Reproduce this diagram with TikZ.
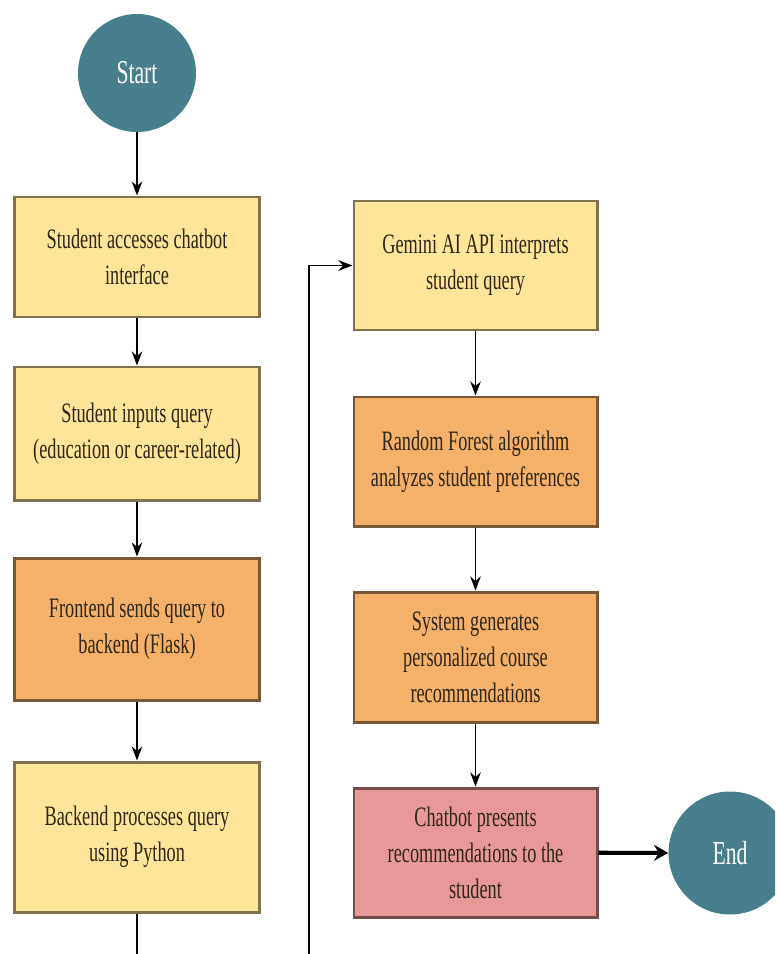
\documentclass[tikz,border=0pt]{standalone}
\usepackage{fontspec}
\setmainfont{Liberation Serif}[FakeStretch=0.65]
\usepackage{xcolor}
\usepackage{tikz}
\usetikzlibrary{shapes.geometric, arrows.meta, positioning}
\definecolor{stepyellow}{HTML}{FFE59A}
\definecolor{steporange}{HTML}{F5B06A}
\definecolor{steppink}{HTML}{E99898}
\definecolor{terminalteal}{HTML}{487F8C}
\definecolor{steptext}{HTML}{2E2618}

\begin{document}
\begin{tikzpicture}[
    box/.style={rectangle, draw=#1!50!black, fill=#1, line width=1.7pt, minimum width=4.9cm, align=center, text=steptext, font=\fontsize{16}{20.5}\selectfont},
    terminal/.style={circle, fill=terminalteal, text=white, font=\fontsize{19}{22}\selectfont},
    arrow/.style={-{Stealth[length=8pt, width=6pt]}, line width=1.1pt}
]
\useasboundingbox (0,0) rectangle (15.5,-19.08);
\clip (0,0) rectangle (15.5,-19.08);

\node[terminal, minimum size=2.36cm] (start) at (2.74,-1.46) {Start};

\node[box=stepyellow, minimum height=2.4cm] (access) at (2.74,-5.14) {Student accesses chatbot\\interface};
\node[box=stepyellow, minimum height=2.66cm] (input) at (2.74,-8.67) {Student inputs query\\(education or career-related)};
\node[box=steporange, minimum height=2.84cm] (frontend) at (2.74,-12.58) {Frontend sends query to\\backend (Flask)};
\node[box=stepyellow, minimum height=3.0cm] (backend) at (2.74,-16.74) {Backend processes query\\using Python};

\node[box=stepyellow, minimum width=4.86cm, minimum height=2.58cm] (gemini) at (9.51,-5.31) {Gemini AI API interprets\\student query};
\node[box=steporange, minimum width=4.86cm, minimum height=2.58cm] (forest) at (9.51,-9.23) {Random Forest algorithm\\analyzes student preferences};
\node[box=steporange, minimum width=4.86cm, minimum height=2.6cm] (generate) at (9.51,-13.14) {System generates\\personalized course\\recommendations};
\node[box=steppink, minimum width=4.86cm, minimum height=2.58cm] (present) at (9.51,-17.05) {Chatbot presents\\recommendations to the\\student};

\node[terminal, minimum size=2.46cm] (stop) at (14.6,-17.06) {End};

\coordinate (detour) at (6.18,-20.0);

\draw[arrow] (start) -- (access);
\draw[arrow] (access) -- (input);
\draw[arrow] (input) -- (frontend);
\draw[arrow] (frontend) -- (backend);
\draw[arrow] (backend.south) |- (detour) |- (gemini.west);
\draw[arrow] (gemini) -- (forest);
\draw[arrow] (forest) -- (generate);
\draw[arrow] (generate) -- (present);
\draw[-{Stealth[length=8pt, width=9pt]}, line width=2.3pt] (present) -- (stop);

\end{tikzpicture}
\end{document}
